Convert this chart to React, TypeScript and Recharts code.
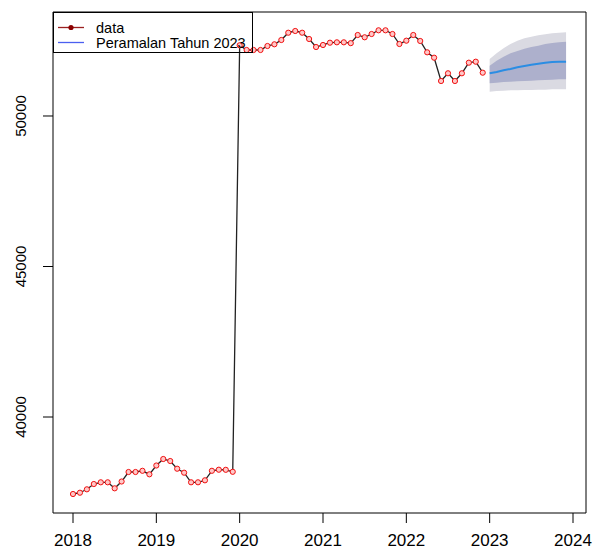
import {
  Area,
  ComposedChart,
  Line,
  ReferenceArea,
  XAxis,
  YAxis,
} from "recharts";

const FONT = '"Liberation Sans", Arial, sans-serif';

// monthly series, Jan 2018 .. Dec 2022
const DATA_START = 2018;
const dataValues = [
  37442, 37485, 37598, 37774, 37831, 37831, 37631, 37857, 38173, 38173, 38213, 38096,
  38389, 38605, 38538, 38282, 38150, 37831, 37831, 37897, 38213, 38249, 38246, 38180,
  52349, 52193, 52193, 52193, 52326, 52382, 52525, 52767, 52824, 52767, 52558, 52292,
  52359, 52435, 52448, 52448, 52420, 52691, 52615, 52724, 52847, 52847, 52724, 52392,
  52502, 52691, 52492, 52116, 51937, 51163, 51419, 51163, 51419, 51771, 51804, 51439,
];

// forecast 2023
const FORECAST_START = 2023;
const forecastMean = [51419, 51462, 51518, 51561, 51618, 51661, 51705, 51738, 51771, 51794, 51804, 51804];
const lo80 = [51086, 51107, 51130, 51140, 51153, 51163, 51173, 51186, 51196, 51206, 51219, 51219];
const hi80 = [51671, 51837, 51970, 52083, 52159, 52236, 52292, 52336, 52392, 52425, 52449, 52468];
const lo95 = [50807, 50831, 50841, 50854, 50854, 50864, 50864, 50874, 50874, 50887, 50887, 50887];
const hi95 = [51894, 52083, 52249, 52392, 52502, 52581, 52635, 52681, 52714, 52748, 52768, 52781];

const xTicks = [2018, 2019, 2020, 2021, 2022, 2023, 2024];
const yTicks = [40000, 45000, 50000];

const X_DOMAIN: [number, number] = [2017.76, 2024.156];
const Y_DOMAIN: [number, number] = [36811, 53455];

const rows = [
  ...dataValues.map((v, i) => ({ t: DATA_START + i / 12, data: v })),
  ...forecastMean.map((m, j) => ({
    t: FORECAST_START + j / 12,
    mean: m,
    band80: [lo80[j], hi80[j]],
    band95: [lo95[j], hi95[j]],
  })),
];

function YTick(props: any) {
  const { x, y, payload } = props;
  const cx = x - 20;
  return (
    <text
      x={cx}
      y={y}
      transform={`rotate(-90, ${cx}, ${y})`}
      textAnchor="middle"
      dominantBaseline="central"
      fontSize={15}
      fontFamily={FONT}
      fill="#000"
    >
      {payload.value}
    </text>
  );
}

function LegendBox() {
  return (
    <div
      style={{
        position: "absolute",
        left: 53,
        top: 12,
        width: 200,
        height: 41,
        border: "1px solid #000",
        boxSizing: "border-box",
        fontFamily: FONT,
        fontSize: 14.5,
        color: "#000",
        pointerEvents: "none",
      }}
    >
      <svg width={200} height={41} style={{ position: "absolute", left: 0, top: 0 }}>
        <line x1={4} x2={30} y1={14.5} y2={14.5} stroke="#9b2020" strokeWidth={1.3} />
        <circle cx={17} cy={14.5} r={2.6} fill="#8b0000" />
        <line x1={4} x2={30} y1={29.5} y2={29.5} stroke="#4b5ff0" strokeWidth={1.3} />
        <text x={42} y={14.5} dominantBaseline="central" fontSize={14.5} fontFamily={FONT}>
          data
        </text>
        <text x={42} y={29.5} dominantBaseline="central" fontSize={14.5} fontFamily={FONT}>
          Peramalan Tahun 2023
        </text>
      </svg>
    </div>
  );
}

export default function App() {
  return (
    <div
      style={{
        position: "absolute",
        left: 0,
        top: 0,
        width: 595,
        height: 550,
        background: "#fff",
        overflow: "hidden",
      }}
    >
      <ComposedChart
        width={595}
        height={550}
        data={rows}
        margin={{ top: 12, right: 9, bottom: 0, left: 0 }}
      >
        <XAxis
          type="number"
          dataKey="t"
          domain={X_DOMAIN}
          ticks={xTicks}
          allowDataOverflow
          height={37}
          axisLine={false}
          tickLine={{ stroke: "#000" }}
          tickSize={10}
          tickMargin={11}
          tick={{ fontSize: 17, fill: "#000", fontFamily: FONT }}
        />
        <YAxis
          type="number"
          domain={Y_DOMAIN}
          ticks={yTicks}
          allowDataOverflow
          width={53}
          axisLine={false}
          tickLine={{ stroke: "#000" }}
          tickSize={10}
          tick={<YTick />}
        />
        <Area
          dataKey="band95"
          stroke="none"
          fill="#dadae2"
          fillOpacity={1}
          isAnimationActive={false}
        />
        <Area
          dataKey="band80"
          stroke="none"
          fill="#adb0cc"
          fillOpacity={1}
          isAnimationActive={false}
        />
        <Line
          dataKey="mean"
          stroke="#2b8de3"
          strokeWidth={2}
          dot={false}
          isAnimationActive={false}
        />
        <Line
          dataKey="data"
          stroke="#222"
          strokeWidth={1.3}
          dot={{ r: 2.6, stroke: "#f01010", fill: "#ffc8c8", strokeWidth: 1 }}
          isAnimationActive={false}
        />
        <ReferenceArea
          x1={X_DOMAIN[0]}
          x2={X_DOMAIN[1]}
          y1={Y_DOMAIN[0]}
          y2={Y_DOMAIN[1]}
          fill="none"
          stroke="#000"
          strokeWidth={1}
        />
      </ComposedChart>
      <LegendBox />
    </div>
  );
}
